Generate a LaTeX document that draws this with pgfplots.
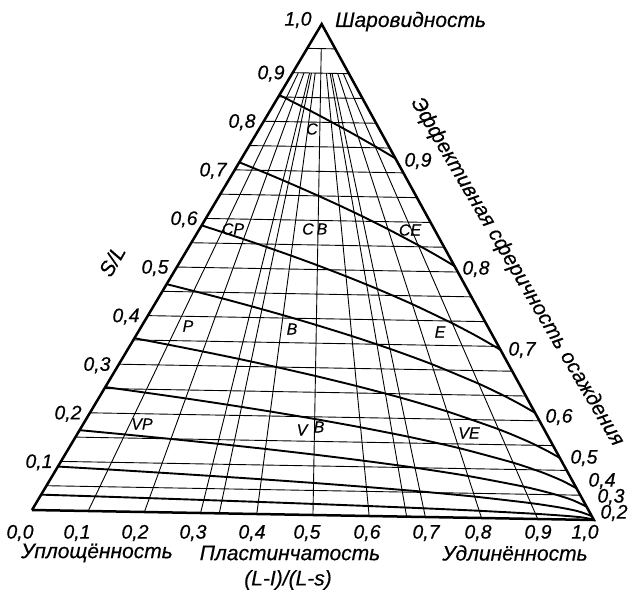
\documentclass[border=0pt]{standalone}
\usepackage{pgfplots}
\usepackage{pgfplotstable}
\pgfplotsset{compat=1.18}
\usepackage{fontspec}
\setmainfont{Liberation Sans}[ItalicFeatures={FakeBold=0.4}]

% Ternary (p = (L-I)/(L-S), s = S/L) to drawing coordinates in pt:
% base 562pt, height 491pt, whole triangle turned 1.02 degrees clockwise.
\newcommand\TX[1]{(562*(\thisrow{#1}/2+\thisrow{p}*(1-\thisrow{#1}))*0.99984+491*\thisrow{#1}*0.0178)}
\newcommand\TY[1]{(-562*(\thisrow{#1}/2+\thisrow{p}*(1-\thisrow{#1}))*0.0178+491*\thisrow{#1}*0.99984)}

\newcommand\numfont{\fontsize{19.5}{22}\selectfont\itshape}
\newcommand\wordfont{\fontsize{21}{24}\selectfont\itshape}
\newcommand\clsfont{\fontsize{16}{18}\selectfont\itshape}

% effective settling sphericity contours, S/L along each curve
\pgfplotstableread{
p     s9     s8     s7     s6     s5     s4     s3     s2     s1
0     0.8538 0.7155 0.5857 0.4648 0.3536 0.2530 0.1643 0.0894 0.0316
0.1   0.8473 0.7049 0.5730 0.4518 0.3417 0.2432 0.1572 0.0853 0.0301
0.2   0.8400 0.6933 0.5593 0.4379 0.3290 0.2328 0.1497 0.0808 0.0284
0.3   0.8320 0.6804 0.5441 0.4226 0.3152 0.2215 0.1416 0.0760 0.0266
0.4   0.8231 0.6660 0.5274 0.4058 0.3000 0.2092 0.1328 0.0709 0.0247
0.5   0.8129 0.6499 0.5087 0.3870 0.2832 0.1956 0.1231 0.0653 0.0226
0.6   0.8013 0.6315 0.4873 0.3658 0.2642 0.1803 0.1123 0.0590 0.0203
0.7   0.7879 0.6102 0.4626 0.3412 0.2423 0.1628 0.1000 0.0519 0.0177
0.8   0.7721 0.5847 0.4329 0.3115 0.2158 0.1416 0.0851 0.0433 0.0146
0.9   0.7529 0.5533 0.3954 0.2734 0.1814 0.1138 0.0655 0.0321 0.0105
0.95  0.7417 0.5343 0.3720 0.2486 0.1583 0.0946 0.0517 0.0242 0.0076
0.98  0.7343 0.5214 0.3554 0.2304 0.1403 0.0789 0.0400 0.0172 0.0050
1     0.7290 0.5120 0.3430 0.2160 0.1250 0.0640 0.0270 0.0080 0.0010
}\contours

% horizontal S/L grid lines
\pgfplotstableread{
p s
0 0.05
1 0.05
nan nan
0 0.10
1 0.10
nan nan
0 0.15
1 0.15
nan nan
0 0.20
1 0.20
nan nan
0 0.25
1 0.25
nan nan
0 0.30
1 0.30
nan nan
0 0.35
1 0.35
nan nan
0 0.40
1 0.40
nan nan
0 0.45
1 0.45
nan nan
0 0.50
1 0.50
nan nan
0 0.55
1 0.55
nan nan
0 0.60
1 0.60
nan nan
0 0.65
1 0.65
nan nan
0 0.70
1 0.70
nan nan
0 0.75
1 0.75
nan nan
0 0.80
1 0.80
nan nan
0 0.85
1 0.85
nan nan
0 0.90
1 0.90
nan nan
0 0.95
1 0.95
}\hgrid

% (L-I)/(L-S) rays
\pgfplotstableread{
p s
0.1 0.9
0.1 0
nan nan
0.2 0.9
0.2 0
nan nan
0.3 0.9
0.3 0
nan nan
0.3333 0.9
0.3333 0
nan nan
0.4 0.9
0.4 0
nan nan
0.5 0.95
0.5 0
nan nan
0.6 0.9
0.6 0
nan nan
0.6667 0.9
0.6667 0
nan nan
0.7 0.9
0.7 0
nan nan
0.8 0.9
0.8 0
nan nan
0.9 0.9
0.9 0
}\rays

\pgfplotstableread{
p s
0 0
1 0
0.5 1
0 0
}\frame

\begin{document}
\begin{tikzpicture}
\begin{axis}[
  x=1pt, y=1pt,
  xmin=-32, xmax=596, ymin=-84, ymax=510,
  hide axis, clip=false,
  unbounded coords=jump,
  every axis plot/.append style={black, mark=none},
]
\addplot[line width=0.9pt] table[x expr=\TX{s}, y expr=\TY{s}] {\hgrid};
\addplot[line width=0.9pt] table[x expr=\TX{s}, y expr=\TY{s}] {\rays};
\foreach \c in {s9,s8,s7,s6,s5,s4,s3,s2,s1}{
  \addplot[line width=1.9pt, smooth, tension=0.4] table[x expr=\TX{\c}, y expr=\TY{\c}] {\contours};
}
\addplot[line width=2.5pt, line join=miter] table[x expr=\TX{s}, y expr=\TY{s}] {\frame};

% S/L scale on the left side
\begin{scope}[every node/.style={inner sep=0pt, font=\numfont}]
\node at (axis cs:266,490) {1,0};
\node at (axis cs:239,436.4) {0,9};
\node at (axis cs:210,387.8) {0,8};
\node at (axis cs:181,339.2) {0,7};
\node at (axis cs:152,290.6) {0,6};
\node at (axis cs:123,242) {0,5};
\node at (axis cs:94,193.4) {0,4};
\node at (axis cs:65,144.8) {0,3};
\node at (axis cs:36,96.2) {0,2};
\node at (axis cs:7,47.6) {0,1};
% (L-I)/(L-S) scale along the base
\node at (axis cs:-12,-23) {0,0};
\node at (axis cs:45,-23) {0,1};
\node at (axis cs:103,-23) {0,2};
\node at (axis cs:161,-23) {0,3};
\node at (axis cs:220,-23) {0,4};
\node at (axis cs:275,-23) {0,5};
\node at (axis cs:335,-23) {0,6};
\node at (axis cs:394,-23) {0,7};
\node at (axis cs:446,-23) {0,8};
\node at (axis cs:506,-23) {0,9};
\node at (axis cs:553,-23) {1,0};
% sphericity values at the ends of the contours
\node at (axis cs:386,349) {0,9};
\node at (axis cs:444,241) {0,8};
\node at (axis cs:490,160) {0,7};
\node at (axis cs:527,93) {0,6};
\node at (axis cs:552,52) {0,5};
\node at (axis cs:570,29) {0,4};
\node at (axis cs:579,13) {0,3};
\node at (axis cs:582,-3) {0,2};
\end{scope}

\begin{scope}[every node/.style={inner sep=0pt, font=\wordfont}]
\node[anchor=base west] at (axis cs:303,483) {Шаровидность};
\node at (axis cs:65,-43) {Уплощённость};
\node at (axis cs:258,-43) {Пластинчатость};
\node at (axis cs:256,-70) {(L-I)/(L-s)};
\node at (axis cs:483,-43) {Удлинённость};
\node[rotate=60] at (axis cs:80,249) {S/L};
\node[rotate=-59.5] at (axis cs:485,238) {Эффективная сферичность осаждения};
\end{scope}

% form classes
\begin{scope}[every node/.style={inner sep=0pt, font=\clsfont}]
\node at (axis cs:280,381) {C};
\node at (axis cs:201,281) {CP};
\node at (axis cs:276,281) {C};
\node at (axis cs:290,281) {B};
\node at (axis cs:378,280) {CE};
\node at (axis cs:156,184) {P};
\node at (axis cs:260,181) {B};
\node at (axis cs:408,178) {E};
\node at (axis cs:110,86) {VP};
\node at (axis cs:270,80) {V};
\node at (axis cs:287,83) {B};
\node at (axis cs:437,77) {VE};
\end{scope}
\end{axis}
\pgfresetboundingbox
\path[use as bounding box] (current axis.south west) rectangle (current axis.north east);
\end{tikzpicture}
\end{document}
